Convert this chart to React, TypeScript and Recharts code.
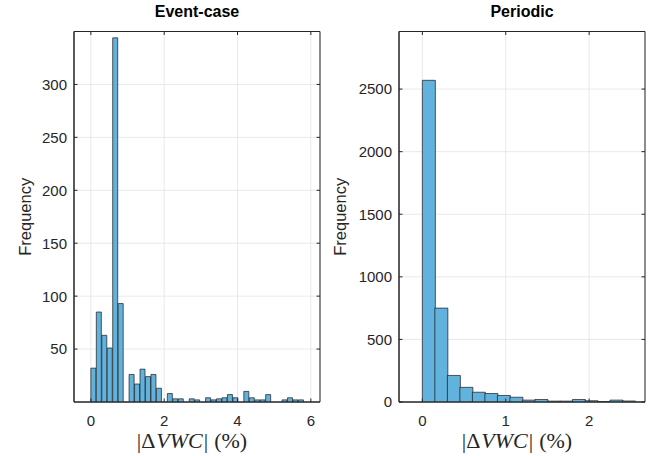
import { ComposedChart, Bar, Line, XAxis, YAxis, CartesianGrid, ReferenceArea } from 'recharts';

// Event-case histogram: bin counts, bins start at 0
const eventBinWidth = 0.149;
const eventCounts = [
  32, 85, 63, 51, 344, 93, 0, 26, 17, 31, 24, 26, 13, 0, 8, 3, 3, 0, 3, 2,
  0, 4, 2, 3, 4, 7, 4, 0, 10, 4, 2, 2, 7, 0, 0, 2, 4, 2, 2,
];
const eventXTicks = [0, 2, 4, 6];
const eventYTicks = [50, 100, 150, 200, 250, 300];
const eventXDomain = [-0.46, 6.25];
const eventYDomain = [0, 350];

// Periodic histogram
const periodicBinWidth = 0.15;
const periodicCounts = [2570, 750, 212, 117, 78, 68, 52, 38, 15, 20, 7, 7, 20, 10, 2, 15, 8];
const periodicXTicks = [0, 1, 2];
const periodicYTicks = [0, 500, 1000, 1500, 2000, 2500];
const periodicXDomain = [-0.28, 2.67];
const periodicYDomain = [0, 2960];

const INK = '#262626';
const SANS = '"Liberation Sans", Arial, Helvetica, sans-serif';
const SERIF = '"Liberation Serif", "Times New Roman", serif';
const TICK_LEN = 3.5;

const toBins = (counts: number[], w: number) =>
  counts.map((count, i) => ({ x: (i + 0.5) * w, count }));

const BottomTick = (props: any) => {
  const { x, y, payload } = props;
  return (
    <g>
      <line x1={x} y1={y} x2={x} y2={y - TICK_LEN} stroke={INK} />
      <text x={x} y={y + 24} textAnchor="middle" fontSize={15} fontFamily={SANS} fill={INK}>
        {payload.value}
      </text>
    </g>
  );
};

const LeftTick = (props: any) => {
  const { x, y, payload } = props;
  return (
    <g>
      <line x1={x} y1={y} x2={x + TICK_LEN} y2={y} stroke={INK} />
      <text x={x - 7} y={y} dy="0.36em" textAnchor="end" fontSize={15} fontFamily={SANS} fill={INK}>
        {payload.value}
      </text>
    </g>
  );
};

const TopTick = (props: any) => {
  const { x, y } = props;
  return <line x1={x} y1={y} x2={x} y2={y + TICK_LEN} stroke={INK} />;
};

const RightTick = (props: any) => {
  const { x, y } = props;
  return <line x1={x} y1={y} x2={x - TICK_LEN} y2={y} stroke={INK} />;
};

const FreqLabel = (props: any) => {
  const { viewBox, dx } = props;
  const cx = viewBox.x + viewBox.width - dx;
  const cy = viewBox.y + viewBox.height / 2;
  return (
    <text
      x={cx}
      y={cy}
      transform={`rotate(-90 ${cx} ${cy})`}
      textAnchor="middle"
      dy="0.35em"
      fontSize={16.5}
      fontFamily={SANS}
      fill={INK}
    >
      Frequency
    </text>
  );
};

const VwcLabel = (props: any) => {
  const { viewBox } = props;
  const cx = viewBox.x + viewBox.width / 2 - 5;
  return (
    <text x={cx} y={viewBox.y + 46} textAnchor="middle" fontSize={22} fontFamily={SERIF} fill={INK}>
      <tspan fill={INK}>|</tspan>
      <tspan fill={INK}>Δ</tspan>
      <tspan fill={INK} fontStyle="italic" dx={1}>VWC</tspan>
      <tspan fill={INK} dx={1}>|</tspan>
      <tspan fill={INK} dx={6}>(%)</tspan>
    </text>
  );
};

function Histogram({ title, counts, binWidth, xDomain, yDomain, xTicks, yTicks, width, margin, labelDx }: any) {
  const data = toBins(counts, binWidth);
  const plotLeft = margin.left + 40;
  const plotRight = width - margin.right - 1;
  return (
    <div style={{ position: 'relative', width, height: 456 }}>
      <div
        style={{
          position: 'absolute',
          top: 3,
          left: plotLeft,
          width: plotRight - plotLeft,
          textAlign: 'center',
          fontFamily: SANS,
          fontWeight: 'bold',
          fontSize: 16,
          lineHeight: '18px',
          color: '#000',
        }}
      >
        {title}
      </div>
      <ComposedChart width={width} height={456} data={data} margin={margin} barCategoryGap={0} barGap={0}>
        <CartesianGrid stroke="#e3e3e3" strokeWidth={0.8} />
        <XAxis
          dataKey="x"
          type="number"
          domain={xDomain}
          allowDataOverflow
          ticks={xTicks}
          height={30}
          tickSize={0}
          tickMargin={0}
          tickLine={false}
          axisLine={{ stroke: INK }}
          tick={<BottomTick />}
          label={<VwcLabel />}
        />
        <XAxis
          xAxisId="top"
          dataKey="x"
          orientation="top"
          type="number"
          domain={xDomain}
          allowDataOverflow
          ticks={xTicks}
          height={1}
          tickSize={0}
          tickMargin={0}
          tickLine={false}
          axisLine={false}
          tick={<TopTick />}
        />
        <YAxis
          type="number"
          domain={yDomain}
          allowDataOverflow
          ticks={yTicks}
          width={40}
          tickSize={0}
          tickMargin={0}
          tickLine={false}
          axisLine={{ stroke: INK }}
          tick={<LeftTick />}
          label={<FreqLabel dx={labelDx} />}
        />
        <YAxis
          yAxisId="right"
          orientation="right"
          type="number"
          domain={yDomain}
          allowDataOverflow
          ticks={yTicks}
          width={1}
          tickSize={0}
          tickMargin={0}
          tickLine={false}
          axisLine={false}
          tick={<RightTick />}
        />
        <Bar
          dataKey="count"
          fill="#62b2de"
          stroke="#1f1f1f"
          strokeOpacity={0.8}
          strokeWidth={0.9}
          isAnimationActive={false}
        />
        {/* invisible series so the mirrored top/right axes get drawn */}
        <Line
          xAxisId="top"
          yAxisId="right"
          dataKey="count"
          stroke="none"
          dot={false}
          activeDot={false}
          legendType="none"
          isAnimationActive={false}
        />
        {/* axes box */}
        <ReferenceArea
          x1={xDomain[0]}
          x2={xDomain[1]}
          y1={yDomain[0]}
          y2={yDomain[1]}
          fill="none"
          fillOpacity={0}
          stroke={INK}
          strokeWidth={1}
          strokeOpacity={1}
          ifOverflow="visible"
        />
      </ComposedChart>
    </div>
  );
}

export default function App() {
  return (
    <div style={{ position: 'absolute', left: 0, top: 0, width: 659, height: 456, background: '#fff', display: 'flex' }}>
      <Histogram
        title="Event-case"
        counts={eventCounts}
        binWidth={eventBinWidth}
        xDomain={eventXDomain}
        yDomain={eventYDomain}
        xTicks={eventXTicks}
        yTicks={eventYTicks}
        width={330}
        margin={{ top: 30.5, right: 9, bottom: 24, left: 34 }}
        labelDx={48.5}
      />
      <Histogram
        title="Periodic"
        counts={periodicCounts}
        binWidth={periodicBinWidth}
        xDomain={periodicXDomain}
        yDomain={periodicYDomain}
        xTicks={periodicXTicks}
        yTicks={periodicYTicks}
        width={329}
        margin={{ top: 30.5, right: 13, bottom: 24, left: 29 }}
        labelDx={59}
      />
    </div>
  );
}
